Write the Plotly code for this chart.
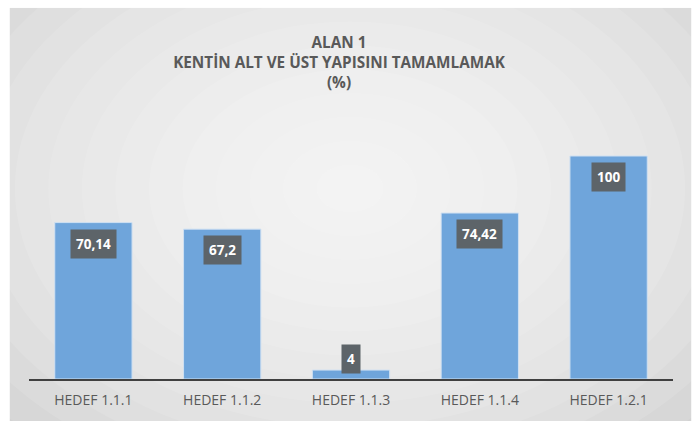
import plotly.graph_objects as go

categories = ["HEDEF 1.1.1", "HEDEF 1.1.2", "HEDEF 1.1.3", "HEDEF 1.1.4", "HEDEF 1.2.1"]
values = [70.14, 67.2, 4, 74.42, 100]
labels = ["70,14", "67,2", "4", "74,42", "100"]

W, H = 697, 421
ML, MR, MT, MB = 28.5, W - 673.5, 100, 421 - 384
pw, ph = W - ML - MR, H - MT - MB
FONT = "Open Sans, Liberation Sans, sans-serif"

def px_x(px):
    return (px - ML) / pw

def px_y(py):
    return (H - MB - py) / ph

fig = go.Figure()
fig.add_trace(go.Bar(
    x=categories, y=values, width=0.6,
    marker=dict(color="#6fa5db", line=dict(color="#cfe0f2", width=1)),
    hoverinfo="skip",
))

shapes = []
shapes.append(dict(type="rect", xref="paper", yref="paper", layer="below",
                   x0=px_x(9), x1=px_x(692), y0=px_y(6), y1=px_y(440),
                   fillcolor="#d3d3d3", line=dict(width=0)))
cx, cy = 350, 190
n = 14
for i in range(n):
    f = 1 - i / n
    rx, ry = 470 * f, 340 * f
    shapes.append(dict(type="circle", xref="paper", yref="paper", layer="below",
                       x0=px_x(cx - rx), x1=px_x(cx + rx), y0=px_y(cy + ry), y1=px_y(cy - ry),
                       fillcolor="rgba(255,255,255,0.11)", line=dict(width=0)))
shapes.append(dict(type="rect", xref="paper", yref="paper", layer="below",
                   x0=px_x(-50), x1=px_x(9), y0=px_y(-50), y1=px_y(500),
                   fillcolor="white", line=dict(width=0)))
shapes.append(dict(type="rect", xref="paper", yref="paper", layer="below",
                   x0=px_x(692), x1=px_x(760), y0=px_y(-50), y1=px_y(500),
                   fillcolor="white", line=dict(width=0)))
shapes.append(dict(type="rect", xref="paper", yref="paper", layer="below",
                   x0=px_x(-50), x1=px_x(760), y0=px_y(-50), y1=px_y(6),
                   fillcolor="white", line=dict(width=0)))

annotations = []
for c, v, t in zip(categories, values, labels):
    inside = v > 10
    annotations.append(dict(
        x=c, y=v, xref="x", yref="y", text="<b>" + t + "</b>", showarrow=False,
        yanchor="top" if inside else "bottom", yshift=-6 if inside else -4,
        font=dict(family=FONT, size=13.5, color="white"),
        bgcolor="#5d6469", borderpad=5,
    ))

fig.update_layout(
    width=W, height=H,
    margin=dict(l=ML, r=MR, t=MT, b=MB, pad=0),
    paper_bgcolor="white", plot_bgcolor="rgba(0,0,0,0)",
    showlegend=False,
    title=dict(
        text="<b>ALAN 1<br>KENTİN ALT VE ÜST YAPISINI TAMAMLAMAK<br>(%)</b>",
        x=339 / W, xanchor="center", y=1 - 48 / H, yanchor="top",
        font=dict(family=FONT, size=15.3, color="#595959"),
    ),
    xaxis=dict(showgrid=False, showline=True, linecolor="#404040", linewidth=1.5,
               ticks="", tickfont=dict(family=FONT, size=14, color="#595959"),
               ticklabelstandoff=7),
    yaxis=dict(range=[0, (H - MB - MT) / 2.27], visible=False, showgrid=False),
    shapes=shapes, annotations=annotations,
    bargap=0.4,
)

post = ("document.body.style.margin='0';document.body.style.overflow='hidden';"
        "var d=document.getElementById('{plot_id}');d.style.position='absolute';"
        "d.style.top='0px';d.style.left='0px';")
fig.write_html("out.html", post_script=post, config={"displayModeBar": False})
